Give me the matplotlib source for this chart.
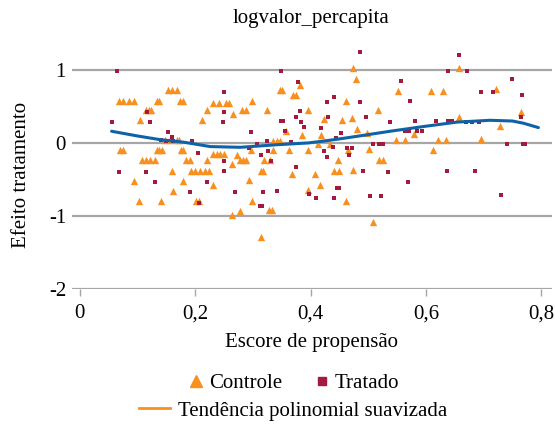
import numpy as np
import matplotlib.pyplot as plt
from matplotlib.lines import Line2D

plt.rcParams['font.family'] = ['Liberation Serif', 'DejaVu Serif']

# grupo controle (triangulos)
controle_x = [0.068, 0.075, 0.086, 0.094, 0.133, 0.138, 0.173, 0.178, 0.152, 0.160, 0.168,
              0.115, 0.120, 0.123, 0.104, 0.212, 0.220, 0.231, 0.242, 0.253, 0.259, 0.266,
              0.281, 0.288, 0.299, 0.324, 0.347, 0.351, 0.370, 0.375, 0.357, 0.385, 0.396,
              0.382, 0.474, 0.478, 0.424, 0.462, 0.455, 0.472, 0.480, 0.517, 0.497, 0.418,
              0.658, 0.551, 0.609, 0.629, 0.722, 0.764, 0.657, 0.728, 0.580, 0.695,
              0.147, 0.156, 0.168, 0.172, 0.335, 0.341, 0.347, 0.548, 0.563, 0.621, 0.634,
              0.413, 0.434,
              0.069, 0.074, 0.133, 0.138, 0.142, 0.175, 0.179, 0.231, 0.237, 0.243, 0.249,
              0.107, 0.114, 0.121, 0.130, 0.184, 0.191, 0.220, 0.159, 0.192, 0.200, 0.208,
              0.217, 0.224, 0.093, 0.178, 0.230, 0.162, 0.102, 0.140, 0.202, 0.207, 0.272,
              0.297, 0.335, 0.363, 0.395, 0.502, 0.447, 0.465, 0.264, 0.278, 0.283, 0.288,
              0.320, 0.330, 0.314, 0.317, 0.368, 0.408, 0.441, 0.449, 0.473, 0.519, 0.525,
              0.294, 0.416, 0.396, 0.299, 0.461, 0.278, 0.328, 0.333, 0.264, 0.509, 0.314,
              0.613]
controle_y = [0.58, 0.58, 0.58, 0.58, 0.58, 0.58, 0.58, 0.58, 0.72, 0.72, 0.72,
              0.445, 0.445, 0.445, 0.31, 0.31, 0.445, 0.54, 0.54, 0.54, 0.54, 0.40,
              0.445, 0.445, 0.58, 0.445, 0.72, 0.72, 0.66, 0.66, 0.17, 0.11, 0.445,
              0.80, 1.02, 0.88, 0.33, 0.58, 0.31, 0.34, 0.195, 0.445, 0.13, 0.11,
              1.03, 0.715, 0.715, 0.715, 0.74, 0.43, 0.35, 0.235, 0.12, 0.06,
              0.04, 0.04, 0.04, 0.04, 0.03, 0.03, 0.03, 0.04, 0.04, 0.04, 0.04,
              -0.02, -0.02,
              -0.10, -0.10, -0.10, -0.10, -0.10, -0.10, -0.10, -0.15, -0.15, -0.15, -0.15,
              -0.24, -0.24, -0.24, -0.24, -0.24, -0.24, -0.24, -0.39, -0.39, -0.39, -0.39,
              -0.39, -0.39, -0.52, -0.52, -0.57, -0.66, -0.80, -0.80, -0.79, -0.79, -0.16,
              -0.10, -0.10, -0.10, -0.10, -0.08, -0.24, -0.10, -0.29, -0.24, -0.24, -0.24,
              -0.24, -0.24, -0.38, -0.38, -0.42, -0.42, -0.38, -0.38, -0.37, -0.24, -0.24,
              -0.51, -0.57, -0.64, -0.80, -0.80, -0.93, -0.92, -0.92, -0.99, -1.08, -1.29,
              -0.10]

# grupo tratado (quadrados)
tratado_x = [0.064, 0.055, 0.117, 0.121, 0.152, 0.160, 0.141, 0.149, 0.161, 0.194, 0.249,
             0.250, 0.248, 0.068, 0.115, 0.130, 0.205, 0.220, 0.191, 0.206, 0.249, 0.250,
             0.349, 0.378, 0.486, 0.428, 0.441, 0.486, 0.382, 0.375, 0.383, 0.388, 0.348,
             0.353, 0.356, 0.366, 0.296, 0.324, 0.307, 0.293, 0.314, 0.326, 0.331, 0.375,
             0.269, 0.317, 0.342, 0.312, 0.316, 0.397, 0.410, 0.441, 0.445, 0.449, 0.496,
             0.418, 0.430, 0.453, 0.444, 0.423, 0.428, 0.439, 0.463, 0.472, 0.467, 0.491,
             0.508, 0.518, 0.525, 0.503, 0.522, 0.658, 0.639, 0.672, 0.557, 0.573, 0.750,
             0.767, 0.696, 0.717, 0.538, 0.581, 0.618, 0.639, 0.645, 0.670, 0.680, 0.692,
             0.764, 0.564, 0.570, 0.584, 0.593, 0.524, 0.740, 0.768, 0.772, 0.534, 0.569,
             0.636, 0.685, 0.730]
tratado_y = [0.98, 0.29, 0.42, 0.29, 0.15, 0.075, 0.04, 0.03, 0.02, 0.025, 0.70,
             0.42, 0.28, -0.40, -0.40, -0.53, -0.14, -0.53, -0.67, -0.82, -0.39, -0.25,
             0.98, 0.84, 1.25, 0.555, 0.63, 0.555, 0.44, 0.35, 0.28, 0.22, 0.30,
             0.30, 0.16, 0.01, 0.15, 0.025, -0.01, -0.07, -0.17, -0.11, -0.25, -0.33,
             -0.67, -0.67, -0.66, -0.86, -0.86, -0.70, -0.76, -0.76, -0.62, -0.62, 0.36,
             0.20, 0.35, 0.14, 0.065, -0.11, -0.19, -0.06, -0.07, -0.07, -0.16, -0.39,
             -0.02, -0.02, -0.02, -0.73, -0.73, 1.20, 0.98, 0.98, 0.85, 0.57, 0.87,
             0.655, 0.70, 0.70, 0.285, 0.30, 0.30, 0.30, 0.30, 0.29, 0.28, 0.28,
             0.36, 0.16, 0.16, 0.16, 0.16, -0.01, -0.02, -0.02, -0.02, -0.40, -0.53,
             -0.39, -0.39, -0.71]

# tendencia polinomial suavizada
tend_x = [0.055, 0.10, 0.139, 0.18, 0.226, 0.278, 0.341, 0.396, 0.422, 0.45, 0.48,
          0.538, 0.596, 0.654, 0.711, 0.75, 0.769, 0.795]
tend_y = [0.16, 0.095, 0.045, 0.01, -0.05, -0.06, -0.025, 0.0, 0.025, 0.055, 0.09,
          0.16, 0.225, 0.285, 0.31, 0.30, 0.27, 0.21]

xticks = [0, 0.2, 0.4, 0.6, 0.8]
xtick_labels = ['0', '0,2', '0,4', '0,6', '0,8']
yticks = [-2, -1, 0, 1]
ytick_labels = ['-2', '-1', '0', '1']

laranja = '#f7901e'
vinho = '#a21a3c'
azul = '#0e62a8'
cinza = '#a6a6a6'
fs = 15

fig = plt.figure(figsize=(5.55, 4.25), dpi=100)
ax = fig.add_axes([0.129, 0.32, 0.866, 0.586])

for y in yticks:
    ax.axhline(y, color=cinza, linewidth=1.6, zorder=0)

ax.scatter(controle_x, controle_y, marker='^', s=28, color=laranja, linewidths=0, zorder=2)
ax.scatter(tratado_x, tratado_y, marker='s', s=10, color=vinho, linewidths=0, zorder=3)
ax.plot(tend_x, tend_y, color=azul, linewidth=2.2, solid_capstyle='round', zorder=4)

ax.set_xlim(-0.0144, 0.819)
ax.set_ylim(-2, 1.41)
ax.set_xticks(xticks)
ax.set_xticklabels(xtick_labels, fontsize=fs)
ax.set_yticks(yticks)
ax.set_yticklabels(ytick_labels, fontsize=fs)
ax.tick_params(axis='x', length=5, width=1, color=cinza, pad=6)
ax.tick_params(axis='y', length=0, pad=4)
for s in ax.spines.values():
    s.set_visible(False)

fig.text(0.56, 1 - 18 / 425, 'logvalor_percapita', fontsize=fs, ha='center', va='center')
ax.set_xlabel('Escore de propensão', fontsize=fs, labelpad=7)
fig.text(0.038, 0.588, 'Efeito tratamento', fontsize=fs, rotation=90, ha='center', va='center')

h_marc = [Line2D([], [], marker='^', linestyle='none', color=laranja, markersize=8),
          Line2D([], [], marker='s', linestyle='none', color=vinho, markersize=5.5)]
fig.legend(h_marc, ['Controle', 'Tratado'], loc='center', bbox_to_anchor=(0.53, 0.098),
           ncol=2, frameon=False, fontsize=fs, handlelength=0.7, handletextpad=0.25,
           columnspacing=1.6)
h_linha = [Line2D([], [], color=laranja, linewidth=2)]
fig.legend(h_linha, ['Tendência polinomial suavizada'], loc='center', bbox_to_anchor=(0.528, 0.033),
           frameon=False, fontsize=fs, handlelength=1.5, handletextpad=0.4)

fig.savefig('out.png', dpi=100)
